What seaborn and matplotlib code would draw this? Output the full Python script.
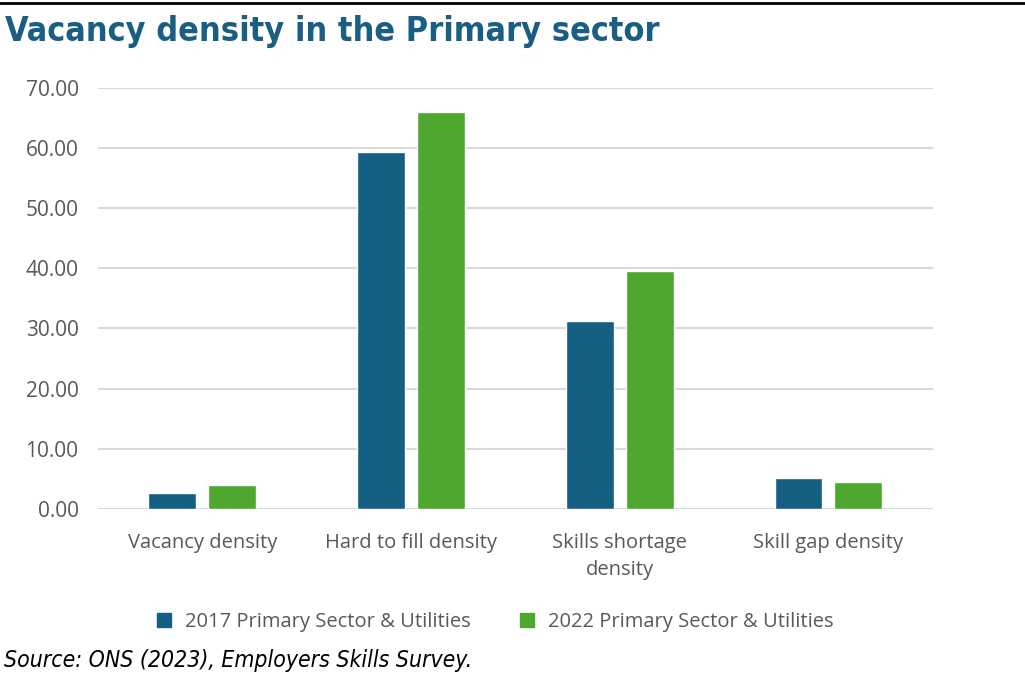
import matplotlib
matplotlib.use("Agg")
import matplotlib.pyplot as plt
from matplotlib.lines import Line2D
import seaborn as sns
import pandas as pd

# Data
categories = ["Vacancy density", "Hard to fill density", "Skills shortage\ndensity", "Skill gap density"]
series_names = ["2017 Primary Sector & Utilities", "2022 Primary Sector & Utilities"]
values_2017 = [2.6, 59.4, 31.3, 5.1]
values_2022 = [4.0, 66.0, 39.6, 4.4]
y_ticks = [0, 10, 20, 30, 40, 50, 60, 70]

colors = ["#156082", "#4EA72E"]
text_grey = "#595959"
title_blue = "#1A5E82"

df = pd.DataFrame({
    "category": categories * 2,
    "value": values_2017 + values_2022,
    "series": [series_names[0]] * 4 + [series_names[1]] * 4,
})

sns.set_theme(style="white")
plt.rcParams["font.family"] = ["Open Sans", "DejaVu Sans"]

fig = plt.figure(figsize=(10.25, 6.75), dpi=100)
ax = fig.add_axes([0.0956, 0.246, 0.8144, 0.624])

sns.barplot(
    data=df, x="category", y="value", hue="series",
    palette=colors, width=0.574, gap=0.2, ax=ax, legend=False,
    saturation=1,
)

ax.set_xlim(-0.5, 3.5)
ax.set_ylim(0, 70)
ax.set_yticks(y_ticks)
ax.set_yticklabels([f"{v:.2f}" for v in y_ticks], color=text_grey, fontsize=15)
ax.tick_params(axis="y", length=0, pad=14)
ax.tick_params(axis="x", length=0, pad=17, labelsize=14.5, labelcolor=text_grey)
for lbl in ax.get_xticklabels():
    lbl.set_linespacing(1.5)
ax.set_xlabel("")
ax.set_ylabel("")
for s in ax.spines.values():
    s.set_visible(False)
ax.yaxis.grid(True, color="#D9D9D9", linewidth=1.5)
ax.set_axisbelow(True)

# legend at the bottom
handles = [Line2D([0], [0], marker="s", linestyle="", markersize=10,
                  markerfacecolor=c, markeredgecolor=c) for c in colors]
fig.legend(handles, series_names, loc="center", bbox_to_anchor=(0.4766, 0.079),
           ncol=2, frameon=False, fontsize=14.5, labelcolor=text_grey,
           handletextpad=0.05, columnspacing=1.8)

# title, source and top rule
fig.text(0.005, 0.953, "Vacancy density in the Primary sector", fontsize=24.5,
         fontweight="bold", color=title_blue, va="center", ha="left",
         fontstretch="condensed",
         family=["DejaVu Sans Condensed", "DejaVu Sans"])
fig.text(0.004, 0.022, "Source: ONS (2023), Employers Skills Survey.", fontsize=16.5,
         style="italic", color="black", va="center", ha="left",
         fontstretch="condensed",
         family=["DejaVu Sans Condensed", "DejaVu Sans"])
fig.add_artist(Line2D([0, 1], [0.996, 0.996], color="black", linewidth=2,
                      transform=fig.transFigure))

fig.savefig("out.png", dpi=100)
